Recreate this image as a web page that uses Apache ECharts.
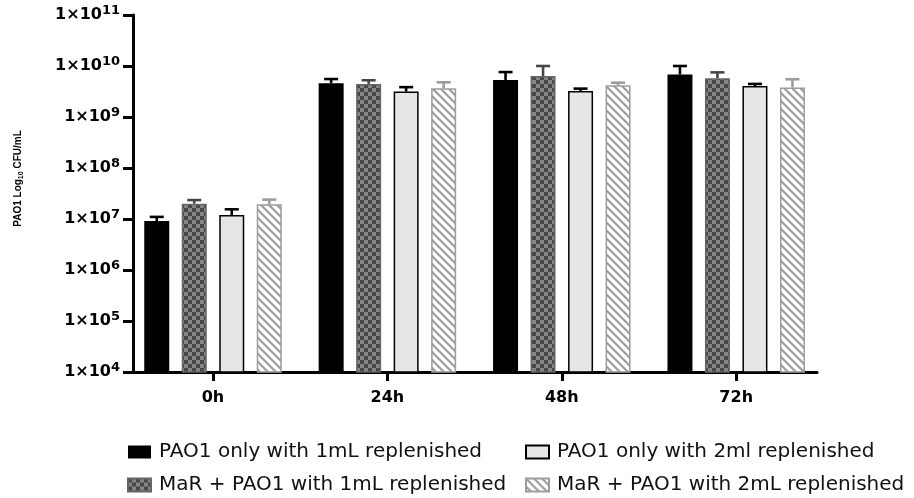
<!DOCTYPE html>
<html>
<head>
<meta charset="utf-8">
<script src="https://cdn.jsdelivr.net/npm/echarts@6/dist/echarts.min.js"></script>
<style>
  html, body { margin: 0; padding: 0; background: #fff; }
  #chart { width: 914px; height: 498px; }
</style>
</head>
<body>
<div id="chart"></div>
<script>
// Time points on the x axis
const timePoints = ['0h', '24h', '48h', '72h'];
const timeIndex = [0, 1, 2, 3];

// Series names
const seriesNames = [
  'PAO1 only with 1mL replenished',
  'MaR + PAO1 with 1mL replenished',
  'PAO1 only with 2ml replenished',
  'MaR + PAO1 with 2mL replenished'
];

// Mean CFU/mL per time point
const pao1Only1mL   = [9.1e6, 4.6e9, 5.3e9, 6.8e9];
const marPao1_1mL   = [2.0e7, 4.45e9, 6.35e9, 5.75e9];
const pao1Only2mL   = [1.2e7, 3.15e9, 3.25e9, 4.05e9];
const marPao1_2mL   = [1.95e7, 3.65e9, 4.2e9, 3.8e9];

// Upper end of the error bars (mean + SD)
const pao1Only1mLUpper = [1.1e7, 5.55e9, 7.6e9, 1.0e10];
const marPao1_1mLUpper = [2.35e7, 5.25e9, 1.0e10, 7.5e9];
const pao1Only2mLUpper = [1.55e7, 3.85e9, 3.6e9, 4.45e9];
const marPao1_2mLUpper = [2.4e7, 4.8e9, 4.7e9, 5.5e9];

// Log axis decades (exponents)
const yMinExp = 4;
const yMaxExp = 11;

const means = [pao1Only1mL, marPao1_1mL, pao1Only2mL, marPao1_2mL];
const uppers = [pao1Only1mLUpper, marPao1_1mLUpper, pao1Only2mLUpper, marPao1_2mLUpper];

// ---- fill patterns ----
function checkerPattern() {
  const c = document.createElement('canvas');
  c.width = 8; c.height = 8;
  const g = c.getContext('2d');
  g.fillStyle = '#858585';
  g.fillRect(0, 0, 8, 8);
  g.fillStyle = '#474747';
  g.fillRect(0, 0, 4, 4);
  g.fillRect(4, 4, 4, 4);
  return c;
}
function hatchPattern() {
  const c = document.createElement('canvas');
  c.width = 8; c.height = 8;
  const g = c.getContext('2d');
  g.fillStyle = '#ffffff';
  g.fillRect(0, 0, 8, 8);
  g.strokeStyle = '#9c9c9c';
  g.lineWidth = 2.2;
  g.beginPath();
  g.moveTo(-2, -2); g.lineTo(10, 10);
  g.moveTo(-2, 6); g.lineTo(2, 10);
  g.moveTo(6, -2); g.lineTo(10, 2);
  g.stroke();
  return c;
}

const barStyles = [
  { color: '#000000', borderWidth: 0 },
  { color: { image: checkerPattern(), repeat: 'repeat' }, borderColor: '#666666', borderWidth: 1.5 },
  { color: '#e6e6e6', borderColor: '#000000', borderWidth: 1.5 },
  { color: { image: hatchPattern(), repeat: 'repeat' }, borderColor: '#9c9c9c', borderWidth: 1.5 }
];
const errColors = ['#000000', '#474747', '#000000', '#9c9c9c'];

const barWidth = 25;
const barGapPx = 12.5;

const series = [];
seriesNames.forEach((name, i) => {
  series.push({
    name: name,
    type: 'bar',
    barWidth: barWidth,
    barGap: '50%',
    clip: true,
    itemStyle: barStyles[i],
    data: timeIndex.map((t, k) => [t, means[i][k]]),
    z: 2
  });
});
seriesNames.forEach((name, i) => {
  const offset = (i - 1.5) * (barWidth + barGapPx);
  series.push({
    type: 'custom',
    name: name + ' SD',
    z: 3,
    data: timeIndex.map((t, k) => [t, means[i][k], uppers[i][k]]),
    encode: { x: 0, y: [1, 2] },
    renderItem: function (params, api) {
      const base = api.coord([api.value(0), api.value(1)]);
      const top = api.coord([api.value(0), api.value(2)]);
      const x = base[0] + offset;
      const half = 7;
      const st = { stroke: errColors[i], lineWidth: 2.6 };
      return {
        type: 'group',
        children: [
          { type: 'line', shape: { x1: x, y1: base[1], x2: x, y2: top[1] }, style: st },
          { type: 'line', shape: { x1: x - half, y1: top[1], x2: x + half, y2: top[1] }, style: st }
        ]
      };
    }
  });
});

const chart = echarts.init(document.getElementById('chart'), null, { renderer: 'canvas' });
const font = '"Liberation Sans", Arial, Helvetica, sans-serif';
const wideFont = '"DejaVu Sans", "Liberation Sans", Arial, sans-serif';

const legendText = { fontSize: 20, lineHeight: 20, color: '#111', fontFamily: wideFont, padding: [0, 0, 0, 3] };

chart.setOption({
  animation: false,
  backgroundColor: '#ffffff',
  textStyle: { fontFamily: font },
  grid: { left: 133, right: 97, top: 15, bottom: 126, outerBoundsMode: 'none' },
  xAxis: {
    type: 'value',
    min: -0.4587,
    max: 3.4633,
    splitLine: { show: false },
    axisLine: { show: true, onZero: false, lineStyle: { color: '#000', width: 3 } },
    axisTick: { show: true, customValues: timeIndex, length: 9, lineStyle: { color: '#000', width: 3 } },
    axisLabel: {
      customValues: timeIndex,
      formatter: v => timePoints[Math.round(v)],
      color: '#000', fontWeight: 'bold', fontSize: 16, margin: 18, fontFamily: wideFont
    }
  },
  yAxis: {
    type: 'log',
    logBase: 10,
    min: Math.pow(10, yMinExp),
    max: Math.pow(10, yMaxExp),
    interval: 1,
    splitLine: { show: false },
    axisLine: { show: true, onZero: false, lineStyle: { color: '#000', width: 3 } },
    axisTick: { show: true, length: 10, lineStyle: { color: '#000', width: 3 } },
    axisLabel: {
      margin: 13,
      formatter: v => '{b|1×10}{s|' + Math.round(Math.log10(v)) + '}',
      rich: {
        b: { fontSize: 16, fontWeight: 'bold', color: '#000', fontFamily: wideFont, lineHeight: 22 },
        s: { fontSize: 13, fontWeight: 'bold', color: '#000', fontFamily: wideFont, verticalAlign: 'top', lineHeight: 11 }
      }
    },
    name: '{t|PAO1 Log}{sub|10}{t| CFU/mL}',
    nameLocation: 'middle',
    nameGap: 108,
    nameTextStyle: {
      padding: [0, 0, 0, 30],
      rich: {
        t: { fontSize: 10, fontWeight: 'bold', color: '#000', fontFamily: font, lineHeight: 14 },
        sub: { fontSize: 7, fontWeight: 'bold', color: '#000', fontFamily: font, verticalAlign: 'bottom', lineHeight: 14 }
      }
    }
  },
  legend: [
    {
      data: [seriesNames[0], seriesNames[1]],
      orient: 'vertical',
      left: 127, top: 442, padding: 0,
      itemWidth: 23, itemHeight: 13, itemGap: 13,
      icon: 'rect',
      textStyle: legendText
    },
    {
      data: [seriesNames[2], seriesNames[3]],
      orient: 'vertical',
      left: 525, top: 442, padding: 0,
      itemWidth: 23, itemHeight: 13, itemGap: 13,
      icon: 'rect',
      textStyle: legendText
    }
  ],
  series: series
});
</script>
</body>
</html>
